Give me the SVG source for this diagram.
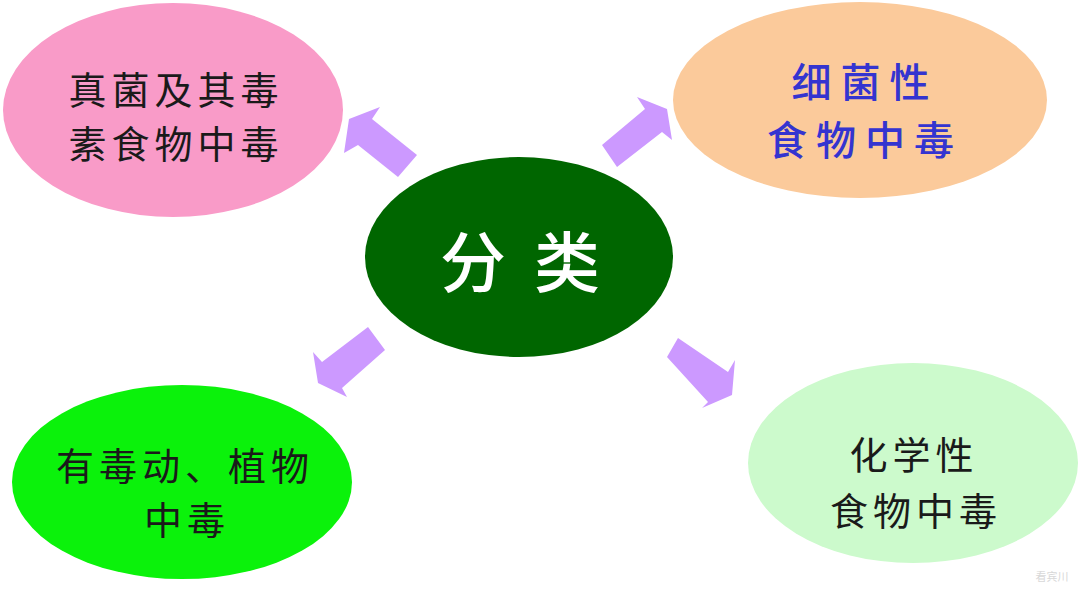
<svg xmlns="http://www.w3.org/2000/svg" width="1080" height="593" viewBox="0 0 1080 593">
<style>
.t{font-family:"Noto Sans CJK SC","Noto Sans CJK JP",sans-serif;text-anchor:middle;dominant-baseline:central}
.dk{fill:#1a1a1a;font-size:38px;letter-spacing:5px}
.bl{fill:#3434D0;font-size:40px;letter-spacing:9px;font-weight:500}
.wh{fill:#ffffff;font-size:66px;font-weight:500}
.arr{fill:#CC99FF}
</style>
<rect width="1080" height="593" fill="#ffffff"/>
<g id="connectors">
<polygon class="arr" points="349,119 380,107 372,119 417,155 398,177 358,145 344,153"/>
<polygon class="arr" points="667,109 672,140 662,132 617,167 602,145 645,109 637,97"/>
<polygon class="arr" points="318,383 313,352 322,362 368,327 385,350 342,388 347,397"/>
<polygon class="arr" points="732,395 702,408 708,402 667,357 678,338 728,372 735,360"/>
</g>
<g id="node-fungi">
<ellipse cx="173" cy="110" rx="170" ry="107" fill="#F99BC8"/>
<text class="t dk" x="176" y="87">真菌及其毒</text>
<text class="t dk" x="176" y="141">素食物中毒</text>
</g>
<g id="node-bacteria">
<ellipse cx="860" cy="100" rx="187" ry="98" fill="#FBCA9B"/>
<text class="t bl" x="865" y="80">细菌性</text>
<text class="t bl" x="865" y="138">食物中毒</text>
</g>
<g id="node-center">
<ellipse cx="519" cy="257" rx="154" ry="100" fill="#006600"/>
<text class="t wh" x="473 520 567" y="258" xml:space="preserve">分 类</text>
</g>
<g id="node-animal-plant">
<ellipse cx="182" cy="482" rx="170" ry="97" fill="#0BF20B"/>
<text class="t dk" x="185" y="463">有毒动、植物</text>
<text class="t dk" x="187" y="517">中毒</text>
</g>
<g id="node-chemical">
<ellipse cx="913" cy="463" rx="165" ry="100" fill="#CCFACC"/>
<text class="t dk" x="914" y="452">化学性</text>
<text class="t dk" x="916" y="508">食物中毒</text>
</g>
<text class="t" x="1052" y="576" style="font-size:11px;fill:#d8d8d8">看宾川</text>
</svg>
